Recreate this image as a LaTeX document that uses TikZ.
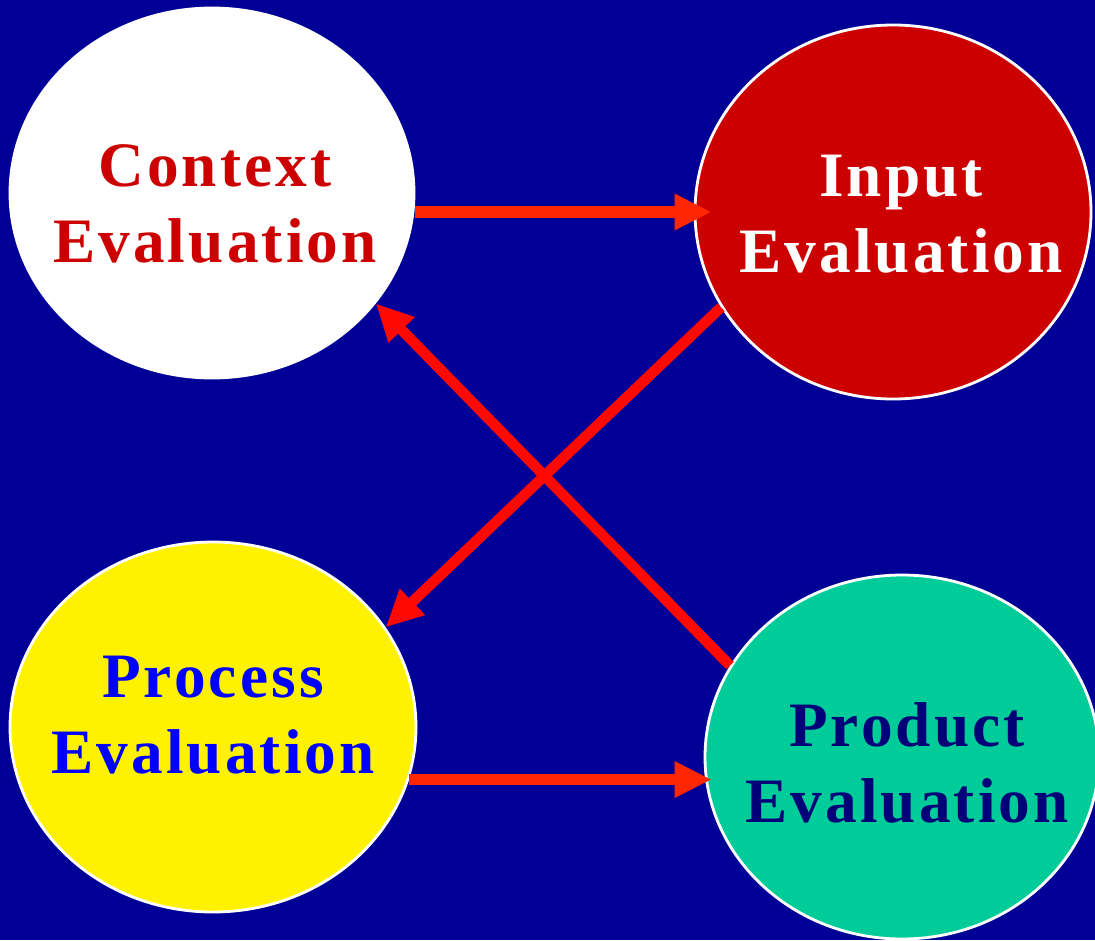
\documentclass[tikz,border=0pt]{standalone}
\usepackage{fontspec}
\setmainfont{Liberation Serif}
\usetikzlibrary{arrows.meta,shapes.geometric}

\definecolor{sfondo}{RGB}{0,0,150}
\definecolor{rossoscuro}{RGB}{204,0,0}
\definecolor{rossofreccia}{RGB}{255,38,0}
\definecolor{rossodiag}{RGB}{255,8,0}
\definecolor{verdeacqua}{RGB}{0,204,153}
\definecolor{blutesto}{RGB}{0,0,255}
\definecolor{blunavy}{RGB}{0,0,120}

\begin{document}
\begin{tikzpicture}[>={Triangle[length=3.7mm, width=3.4mm]},
  cerchio/.style={ellipse, draw=white, line width=0.8pt, inner sep=0pt},
  testo/.style={align=center, inner sep=0pt,
    font=\fontsize{18}{21.6}\selectfont\bfseries\addfontfeature{LetterSpace=5}},
  freccia/.style={->, line width=3.3pt, color=rossofreccia}]

% Sfondo
\fill[sfondo] (0,0) rectangle (10.95,9.40);
\useasboundingbox (0,0) rectangle (10.95,9.40);

% Cerchi
\node[cerchio, fill=white, minimum width=4.04cm, minimum height=3.70cm] (ctx) at (2.12,7.47) {};
\node[cerchio, fill=rossoscuro, minimum width=3.96cm, minimum height=3.74cm] (inp) at (8.93,7.28) {};
\node[cerchio, fill=yellow, minimum width=4.06cm, minimum height=3.70cm] (proc) at (2.13,2.13) {};
\node[cerchio, fill=verdeacqua, minimum width=3.94cm, minimum height=3.64cm] (prod) at (9.02,1.83) {};

% Testi
\node[testo, text=rossoscuro] (ctxtesto) at ([xshift=0.03cm, yshift=-0.11cm]ctx) {Context\\Evaluation};
\node[testo, text=white] (inptesto) at ([xshift=0.08cm, yshift=-0.02cm]inp) {Input\\Evaluation};
\node[testo, text=blutesto] (proctesto) at ([yshift=0.12cm]proc) {Process\\Evaluation};
\node[testo, text=blunavy] (prodtesto) at ([xshift=0.05cm, yshift=-0.06cm]prod) {Product\\Evaluation};

% Frecce orizzontali
\draw[freccia, shorten >=-1.8mm] (inp.west -| ctx.east) -- (inp.west);
\draw[freccia, line width=3pt, shorten >=-0.8mm] (proc.-15) -- (proc.-15 -| prod.west);

% Frecce diagonali
\draw[freccia, line width=3pt, color=rossodiag] (inp.209) -- (proc.30);
\draw[freccia, line width=3pt, color=rossodiag] (prod.152) -- (ctx.326);

\end{tikzpicture}
\end{document}
